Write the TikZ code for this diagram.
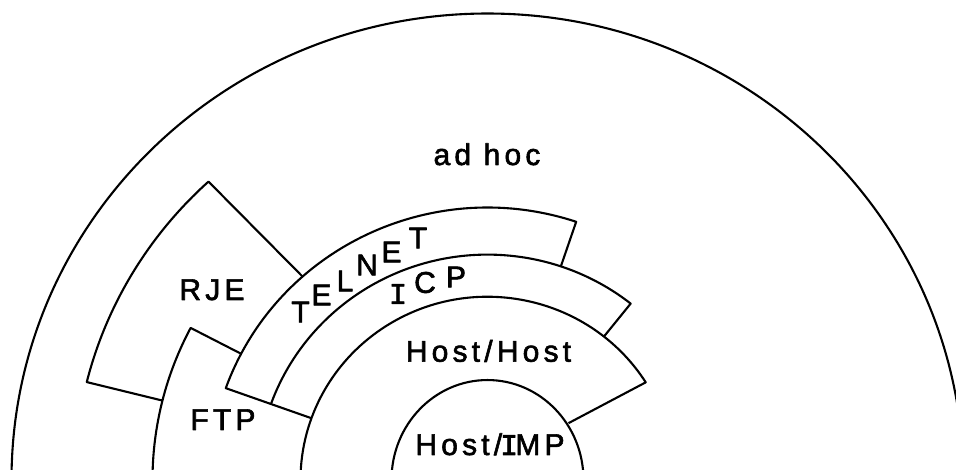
\documentclass[tikz,border=0pt]{standalone}
\usepackage{fontspec}
\setmainfont{Liberation Sans}[LetterSpace=14,FakeBold=2]
\newfontfamily\plainfont{Liberation Sans}[FakeBold=2]
\newfontfamily\monoIfont{Liberation Mono}[LetterSpace=14,FakeBold=2]
\newfontfamily\monoplainfont{Liberation Mono}[FakeBold=2]
\newcommand{\serifI}{\kern-0.07em{\monoIfont I}\kern-0.09em}
\begin{document}
\begin{tikzpicture}[x=1pt,y=1pt,line width=2.1pt,line join=round,
  lbl/.style={font=\fontsize{30}{36}\selectfont,inner sep=0pt,anchor=base},
  letter/.style={font=\plainfont\fontsize{30}{36}\selectfont,inner sep=0pt,anchor=center}]
\useasboundingbox (0,0) rectangle (956,470);
\begin{scope}
\clip (0,0) rectangle (956,470);
\begin{scope}[shift={(487.5,-10)},yscale=0.98]
  % outer ad hoc boundary
  \draw (0:476) arc[start angle=0,end angle=180,radius=476];
  % Host/IMP
  \draw (0:96) arc[start angle=0,end angle=180,x radius=96,y radius=102];
  % Host/Host
  \draw (81,58) -- (32.2:187) arc[start angle=32.2,end angle=180,radius=187];
  % ICP
  \draw (51.5:187) -- (51.5:230) arc[start angle=51.5,end angle=160.3,radius=230];
  % TELNET
  \draw (71.4:230) -- (71.4:278) arc[start angle=71.4,end angle=160.3,radius=278] -- (160.3:187);
  % RJE
  \draw (131.7:278) -- (132.5:413) arc[start angle=132.5,end angle=166,radius=413]
        -- (166:335) arc[start angle=166,end angle=152.4,radius=335] -- (152.4:278);
  % FTP outer boundary
  \draw (166:335) arc[start angle=166,end angle=180,radius=335];
\end{scope}
\end{scope}
\node[lbl] (adhoc) at (487,305) {ad hoc};
\node[lbl] (rje) at (212,170) {RJE};
\node[lbl] (ftp) at (223,40) {FTP};
\node[lbl] (hosthost) at (488.5,108.3) {Host/Host};
\node[lbl] (hostimp) at (490,15) {Host/\serifI MP};
\node[letter] (t1) at (300.5,158) {T};
\node[letter] (e1) at (321.5,175) {E};
\node[letter] (l1) at (345,189) {L};
\node[letter] (n1) at (367,205) {N};
\node[letter] (e2) at (391.5,218) {E};
\node[letter] (t2) at (418,232) {T};
\node[letter,font=\monoplainfont\fontsize{30}{36}\selectfont] (i1) at (398,176) {I};
\node[letter] (c1) at (425,187.5) {C};
\node[letter] (p1) at (456,193) {P};
\end{tikzpicture}
\end{document}
